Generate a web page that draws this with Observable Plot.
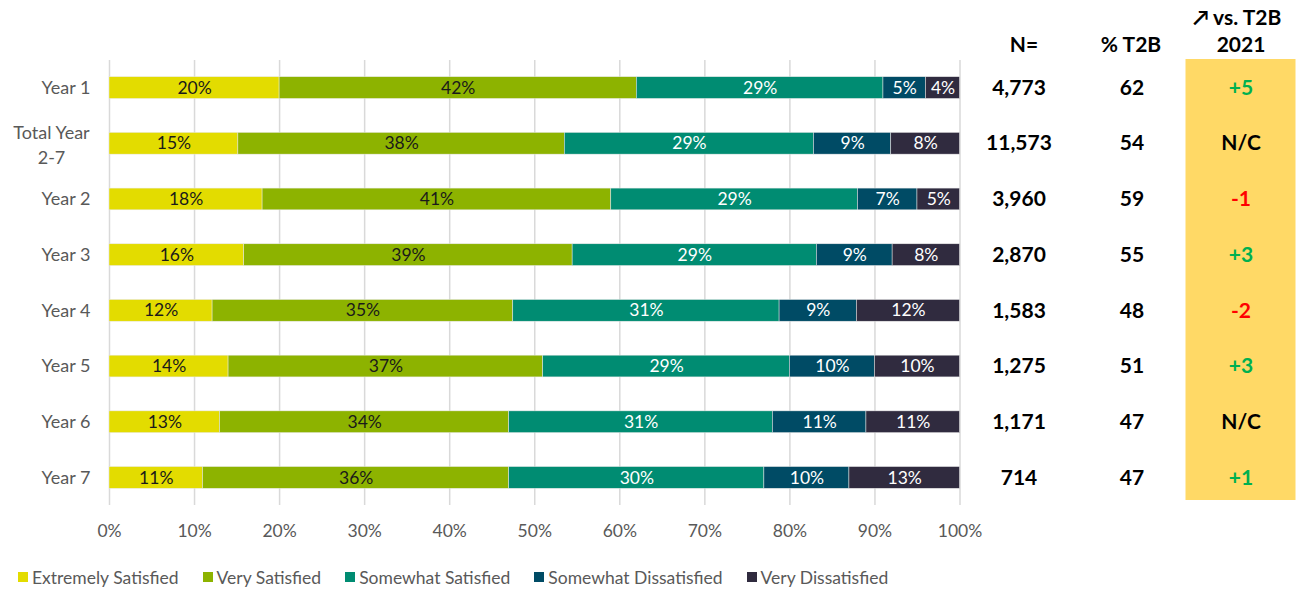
<!DOCTYPE html>
<html>
<head>
<meta charset="utf-8">
<script src="https://cdn.jsdelivr.net/npm/d3@7"></script>
<script src="https://cdn.jsdelivr.net/npm/@observablehq/plot@0.6"></script>
<style>
  body { margin: 0; background: #fff; font-family: Lato, "Open Sans", sans-serif; }
  #legend { display: flex; align-items: center; height: 24px; margin-left: 18px; font-size: 17.5px; color: #595959; }
  #legend .item { display: flex; align-items: center; margin-right: 24px; }
  #legend .sw { width: 10px; height: 10px; margin-right: 4px; }
</style>
</head>
<body>
<div id="chart"></div>
<script>
const categories = ["Year 1", "Total Year 2-7", "Year 2", "Year 3", "Year 4", "Year 5", "Year 6", "Year 7"];
const levels = ["Extremely Satisfied", "Very Satisfied", "Somewhat Satisfied", "Somewhat Dissatisfied", "Very Dissatisfied"];
const levelColors = ["#E3DC00", "#8DB300", "#008C72", "#004B65", "#302B3F"];
const labelColors = ["#1a1a1a", "#1a1a1a", "#ffffff", "#ffffff", "#ffffff"];

const extremelySatisfied    = [20, 15, 18, 16, 12, 14, 13, 11];
const verySatisfied         = [42, 38, 41, 39, 35, 37, 34, 36];
const somewhatSatisfied     = [29, 29, 29, 29, 31, 29, 31, 30];
const somewhatDissatisfied  = [5, 9, 7, 9, 9, 10, 11, 10];
const veryDissatisfied      = [4, 8, 5, 8, 12, 10, 11, 13];

const nCounts   = [4773, 11573, 3960, 2870, 1583, 1275, 1171, 714];
const pctT2B    = [62, 54, 59, 55, 48, 51, 47, 47];
const changeVs2021 = [5, null, -1, 3, -2, 3, null, 1];

const xTicks = [0, 0.1, 0.2, 0.3, 0.4, 0.5, 0.6, 0.7, 0.8, 0.9, 1];

const seriesValues = [extremelySatisfied, verySatisfied, somewhatSatisfied, somewhatDissatisfied, veryDissatisfied];
const rows = [];
levels.forEach((lev, li) => {
  categories.forEach((cat, ci) => {
    rows.push({category: cat, level: lev, value: seriesValues[li][ci], labelColor: labelColors[li]});
  });
});
const table = categories.map((cat, i) => ({
  category: cat, n: nCounts[i], t2b: pctT2B[i], change: changeVs2021[i]
}));

const fontFamily = "Lato, 'Open Sans', sans-serif";

const yellowBox = (index, scales, values, dimensions) => {
  const xr = scales.x(1);
  const g = d3.create("svg:g");
  g.append("rect")
    .attr("x", xr + 226)
    .attr("y", dimensions.marginTop - 1)
    .attr("width", 110)
    .attr("height", dimensions.height - dimensions.marginTop - dimensions.marginBottom - 4)
    .attr("fill", "#FFD966");
  return g.node();
};

const bold = {fontSize: 21, fontWeight: "bold", fill: "#000", textAnchor: "middle", lineAnchor: "middle"};

const chart = Plot.plot({
  width: 1299,
  height: 565,
  marginLeft: 109,
  marginRight: 339.5,
  marginTop: 60,
  marginBottom: 60,
  style: {fontFamily, background: "#fff"},
  x: {domain: [0, 1], ticks: xTicks, tickFormat: d3.format(".0%")},
  y: {domain: categories, paddingInner: 0.61, paddingOuter: 0.3, round: false},
  color: {domain: levels, range: levelColors},
  marks: [
    Plot.gridX(xTicks, {stroke: "#d9d9d9", strokeOpacity: 1, strokeWidth: 1.5}),
    Plot.axisX({ticks: xTicks, tickFormat: d3.format(".0%"), tickSize: 0, tickPadding: 19, fontSize: 17.5, color: "#595959", label: null}),
    Plot.axisY({tickSize: 0, tickPadding: 19, fontSize: 18, color: "#595959", label: null,
      tickFormat: d => d === "Total Year 2-7" ? "" : d}),
    Plot.text(["Total Year\n2-7"], {y: () => "Total Year 2-7", frameAnchor: "left", dx: -58, textAnchor: "middle",
      lineHeight: 1.35, fontSize: 18, fill: "#595959"}),
    Plot.barX(rows, Plot.stackX({x: "value", y: "category", fill: "level", offset: "normalize", order: levels,
      stroke: "#e8e8e8", strokeWidth: 0.5})),
    Plot.text(rows, Plot.stackX({x: "value", y: "category", z: "level", offset: "normalize", order: levels,
      text: d => d.value + "%", fill: "labelColor", fontSize: 17.5})),
    yellowBox,
    Plot.text(table, {y: "category", frameAnchor: "right", dx: 59, text: d => d3.format(",")(d.n), ...bold}),
    Plot.text(table, {y: "category", frameAnchor: "right", dx: 172, text: d => String(d.t2b), ...bold}),
    Plot.text(table, {y: "category", frameAnchor: "right", dx: 281,
      text: d => d.change == null ? "N/C" : (d.change > 0 ? "+" + d.change : "-" + Math.abs(d.change)),
      ...bold,
      fill: d => d.change == null ? "#000" : (d.change > 0 ? "#00B050" : "#FF0000")}),
    Plot.text(["N="], {frameAnchor: "top-right", dx: 64, dy: -15, ...bold}),
    Plot.text(["% T2B"], {frameAnchor: "top-right", dx: 171, dy: -15, ...bold}),
    Plot.text(["2021"], {frameAnchor: "top-right", dx: 281, dy: -15, ...bold}),
    Plot.text(["\u2197 vs. T2B"], {frameAnchor: "top-right", dx: 277, dy: -42, ...bold})
  ]
});

document.getElementById("chart").append(chart);

const legend = d3.select("body").append("div").attr("id", "legend");
levels.forEach((lev, i) => {
  const item = legend.append("div").attr("class", "item");
  item.append("div").attr("class", "sw").style("background", levelColors[i]);
  item.append("span").text(lev);
});
</script>
</body>
</html>
